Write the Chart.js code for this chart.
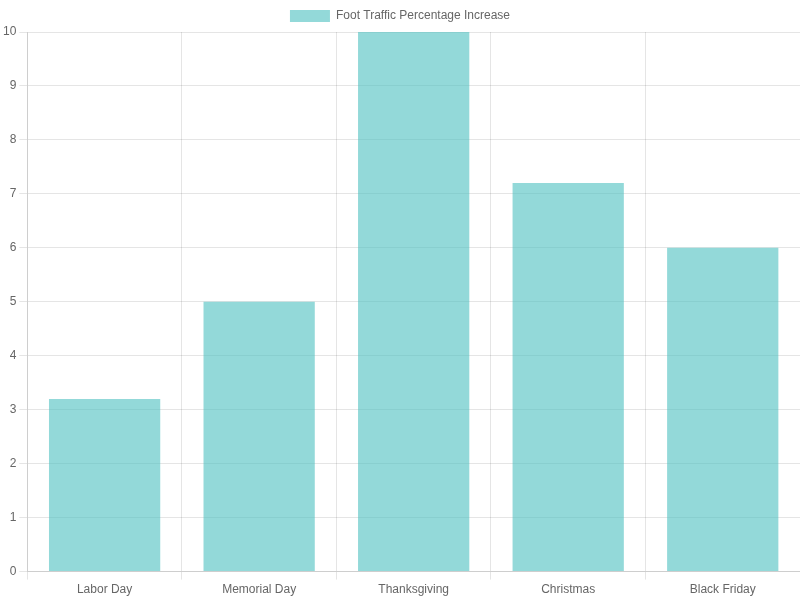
<!DOCTYPE html>
<html>
<head>
<meta charset="utf-8">
<script src="https://cdn.jsdelivr.net/npm/chart.js@4/dist/chart.umd.min.js"></script>
<style>
html, body { margin: 0; padding: 0; background: #fff; }
#wrap { width: 800px; height: 600px; position: relative; }
</style>
</head>
<body>
<div id="wrap"><canvas id="c"></canvas></div>
<script>
const categories = ["Labor Day", "Memorial Day", "Thanksgiving", "Christmas", "Black Friday"];
const footTraffic = [3.2, 5, 10, 7.2, 6];
const seriesLabel = "Foot Traffic Percentage Increase";

new Chart(document.getElementById('c'), {
  type: 'bar',
  data: {
    labels: categories,
    datasets: [{
      label: seriesLabel,
      data: footTraffic,
      backgroundColor: 'rgba(75, 192, 192, 0.6)',
      borderColor: 'rgba(75, 192, 192, 0.6)',
      borderWidth: 0
    }]
  },
  options: {
    responsive: true,
    maintainAspectRatio: false,
    animation: false,
    scales: {
      y: { beginAtZero: true }
    }
  }
});
</script>
</body>
</html>
